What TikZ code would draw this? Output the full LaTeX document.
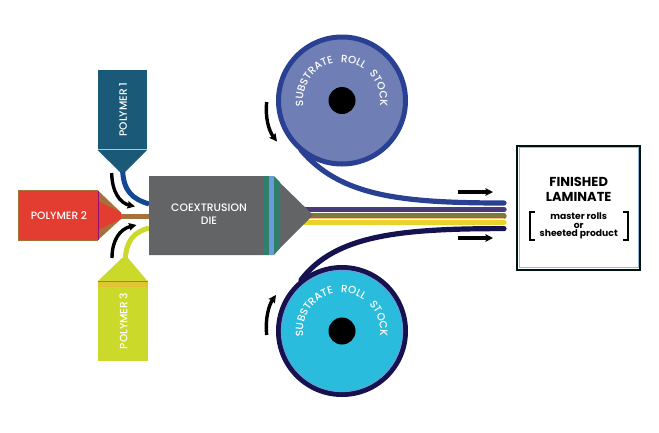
\documentclass[tikz,border=0pt]{standalone}
\usepackage{fontspec}
\setmainfont[BoldFont={Poppins Bold}]{Poppins Medium}
\usetikzlibrary{arrows.meta,decorations.text}
\definecolor{pa}{HTML}{1A5A78}
\definecolor{pb}{HTML}{E33D31}
\definecolor{pc}{HTML}{CBD92B}
\definecolor{die}{HTML}{636466}
\definecolor{webtop}{HTML}{2A4193}
\definecolor{webbot}{HTML}{15124F}
\definecolor{rolltop}{HTML}{6F7FB5}
\definecolor{rollbot}{HTML}{29BCDC}
\definecolor{layera}{HTML}{4A3A78}
\definecolor{layerb}{HTML}{7B7A3A}
\definecolor{layerc}{HTML}{E8D22A}
\definecolor{tubeb}{HTML}{A5703A}
\definecolor{bandg}{HTML}{2F7F6C}
\definecolor{bandb}{HTML}{6B9BD6}
\definecolor{bandy}{HTML}{E0C432}
\tikzset{
  x=1pt,y=-1pt,
  web/.style={line width=5.2pt,line cap=round},
  bandline/.style={line width=5.4pt,line cap=round},
  motion/.style={line width=3.4pt,-{Stealth[length=7.5pt,width=7.5pt,inset=1pt]}},
  lab/.style={text=white,font=\fontsize{10.6}{12}\selectfont,inner sep=0pt,align=center},
  rolltext/.style={decorate,decoration={text along path,text align={fit to path stretching spaces},text color=white,
    text={|\fontsize{10.5}{12}\selectfont|SUBSTRATE ROLL STOCK}}},
  finbig/.style={font=\fontsize{13}{15}\selectfont\bfseries,inner sep=0pt,text=black},
  finsmall/.style={font=\fontsize{9.2}{10}\selectfont\bfseries,inner sep=0pt,text=black},
}
\begin{document}
\begin{tikzpicture}
\useasboundingbox (0,0) rectangle (659,432);
% named points
\coordinate (rt) at (342,100.5);
\coordinate (rb) at (342,331);
\coordinate (dieN) at (149,204);
\coordinate (dieW) at (149,216);
\coordinate (dieS) at (149,228);
\coordinate (la) at (300,209.5);\coordinate (lae) at (504,209.5);
\coordinate (lb) at (300,215.8);\coordinate (lbe) at (504,215.8);
\coordinate (lc) at (300,222.2);\coordinate (lce) at (504,222.2);
\coordinate (ld) at (300,218.9);\coordinate (lde) at (504,218.9);
% tubes
\draw[color=pa!80!blue,line width=5pt] (122.5,168) .. controls (123,192) and (133,199) .. (dieN);
\draw[pc,line width=5pt] (125,262) .. controls (126,240) and (134,232) .. (dieS);
\draw[tubeb,line width=5pt] (118,216) -- (dieW);
% polymer 1
\fill[pa] (97.5,70) rectangle (147,150);
\fill[pa] (97.5,150) -- (147,150) -- (125,172) -- (120,172) -- cycle;
\draw[pc,line width=1.4pt] (97.5,149.5) -- (147,149.5);
\node[lab,rotate=90] (p1) at (123,109.5) {POLYMER 1};
% polymer 2
\fill[pb] (18,190.5) rectangle (98,240);
\fill[tubeb] (98,190.5) -- (121,212.5) -- (121,219) -- (98,240) -- cycle;
\fill[pb] (98,201) -- (121,212.5) -- (121,219) -- (98,230) -- cycle;
\draw[tubeb,line width=.9pt] (18,190.5) -- (98,190.5) (18,240) -- (98,240);
\draw[tubeb,line width=1.4pt] (18.5,190.5) -- (18.5,240);
\draw[violet!80!pb,line width=1pt] (98,190.5) -- (98,240);
\node[lab] (p2) at (59,216) {POLYMER 2};
% polymer 3
\fill[pc] (98,281) rectangle (147.5,361);
\fill[pc] (98,281) -- (147.5,281) -- (128,258) -- (122,258) -- cycle;
\fill[bandy] (98,281) rectangle (147.5,287);
\draw[brown!85!red,line width=1pt] (98,281) -- (147.5,281);
\node[lab,rotate=90] (p3) at (123.5,321) {POLYMER 3};
% layers from die to exit
\draw[bandline,color=layera] (la) -- (lae);
\draw[bandline,color=layerb] (lb) -- (lbe);
\draw[bandline,color=layerc] (lc) -- (lce);
\draw[orange!50!white,line width=1pt] (ld) -- (lde);
% die
\fill[die] (149,176) -- (273,176) -- (313,215) -- (273,255) -- (149,255) -- cycle;
\fill[bandg] (263,176) rectangle (269,255);
\fill[bandb] (268.7,176) rectangle (274,255);
\fill[bandg] (274,176) -- (280,182) -- (280,248) -- (274,255) -- cycle;
\node[lab,font=\fontsize{10.8}{12.4}\selectfont] (dielabel) at (209,214) {COEXTRUSION\\DIE};
% rolls
\draw[webtop,web] (301,150) .. controls (340,196) and (400,203) .. (504,203);
\draw[webbot,web] (301,280) .. controls (335,235) and (400,228.6) .. (504,228.6);
\draw[webtop,fill=rolltop,line width=5pt] (rt) circle (63.5);
\draw[webbot,fill=rollbot,line width=5pt] (rb) circle (63.5);
\draw[bandb,line width=1pt] (rb) circle (60.6);
\fill[black] (rt) circle (13.5);
\fill[black] (rb) circle (13.5);
\path[rolltext] (303.5,106) arc[start angle=188,end angle=-8,radius=38.5pt];
\path[rolltext] (303.5,336.5) arc[start angle=188,end angle=-8,radius=38.5pt];
% motion arrows
\coordinate (a1s) at (111.7,173);\coordinate (a1e) at (135,206.5);
\coordinate (a3s) at (112,258);\coordinate (a3e) at (136.5,225);
\coordinate (a4s) at (266.7,102);\coordinate (a4e) at (277,141.5);
\coordinate (a5s) at (266.7,335);\coordinate (a5e) at (276,295);
\coordinate (a6s) at (458,192);\coordinate (a6e) at (493,192);
\coordinate (a7s) at (458,238);\coordinate (a7e) at (493,238);
\draw[motion] (a1s) .. controls (112,192) and (120,203) .. (a1e);
\draw[motion] (a3s) .. controls (112,240) and (120,229) .. (a3e);
\draw[motion] (a4s) .. controls (265,118) and (269,131) .. (a4e);
\draw[motion] (a5s) .. controls (265,318) and (269,305) .. (a5e);
\draw[motion] (a6s) -- (a6e);
\draw[motion] (a7s) -- (a7e);
% box
\node[draw=black!85!teal,line width=2pt,minimum width=123pt,minimum height=124pt,inner sep=0pt,fill=white] (box) at (578.7,207.5) {};
\draw[bandb!70!white,line width=1pt] ([shift={(3,3)}]box.north west) rectangle ([shift={(-3,-3)}]box.south east);
\node[finbig] (f1) at (578.7,182) {FINISHED};
\node[finbig] (f2) at (578.7,197.3) {LAMINATE};
\node[finsmall] (f3) at (578.7,216.5) {master rolls};
\node[finsmall] (f4) at (578.7,225.5) {or};
\node[finsmall] (f5) at (578.7,234.5) {sheeted product};
\coordinate (bl) at (530,226);\coordinate (br) at (628,226);
\draw[line width=1.4pt] ([shift={(5,-14)}]bl) -- ([shift={(0,-14)}]bl) -- ([shift={(0,14)}]bl) -- ([shift={(5,14)}]bl);
\draw[line width=1.4pt] ([shift={(-5,-14)}]br) -- ([shift={(0,-14)}]br) -- ([shift={(0,14)}]br) -- ([shift={(-5,14)}]br);
\end{tikzpicture}
\end{document}
